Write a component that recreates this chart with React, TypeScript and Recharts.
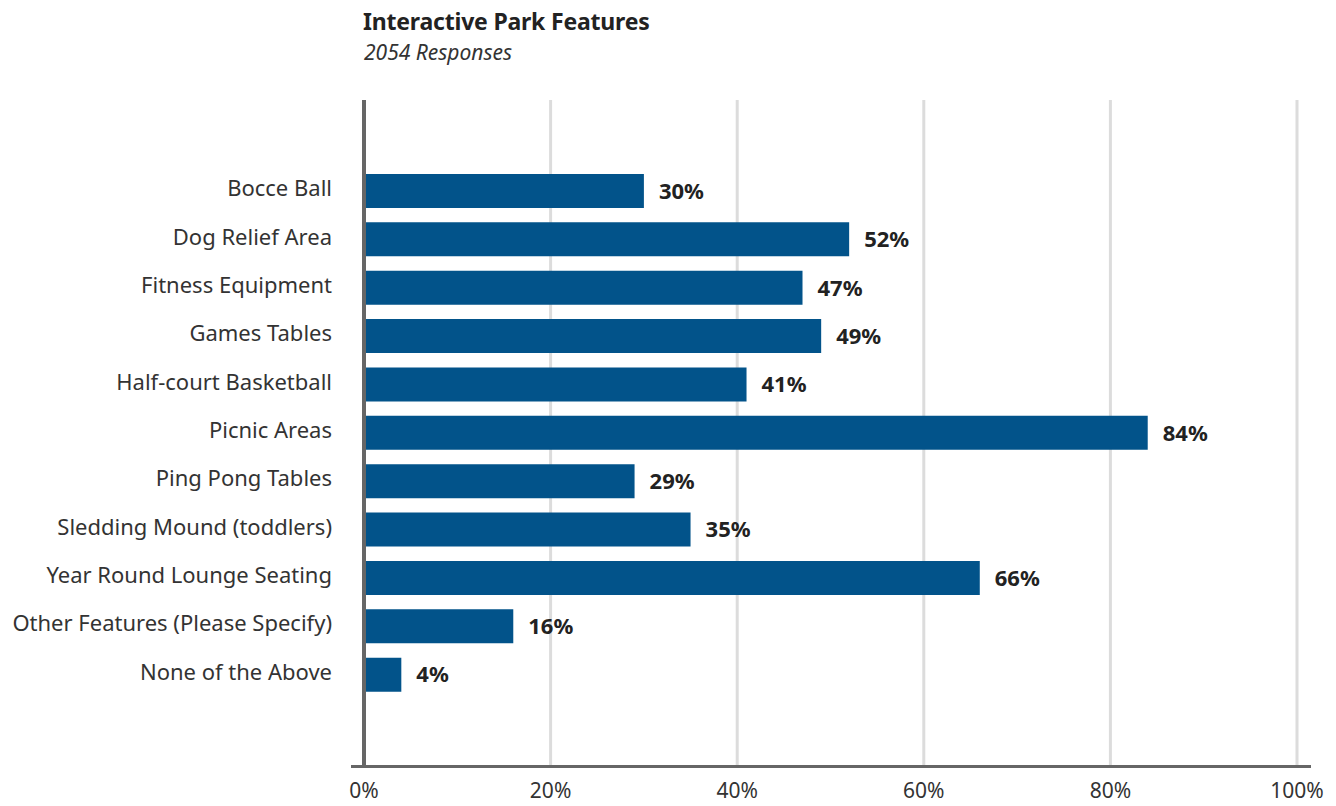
import React from "react";
import {
  BarChart,
  Bar,
  XAxis,
  YAxis,
  CartesianGrid,
  LabelList,
} from "recharts";

const categories = [
  "Bocce Ball",
  "Dog Relief Area",
  "Fitness Equipment",
  "Games Tables",
  "Half-court Basketball",
  "Picnic Areas",
  "Ping Pong Tables",
  "Sledding Mound (toddlers)",
  "Year Round Lounge Seating",
  "Other Features (Please Specify)",
  "None of the Above",
];

const percents = [30, 52, 47, 49, 41, 84, 29, 35, 66, 16, 4];

const xTicks = [0, 20, 40, 60, 80, 100];

const FONT = "'Noto Sans', sans-serif";

const chartData = categories.map((name, i) => ({ name, value: percents[i] }));

function CategoryTick({ x, y, payload }: any) {
  return (
    <text
      x={x - 24}
      y={y}
      dy={5}
      textAnchor="end"
      fontSize={22}
      fill="#333"
      fontFamily={FONT}
    >
      {payload.value}
    </text>
  );
}

function PercentTick({ x, payload }: any) {
  return (
    <text
      x={x}
      y={766}
      dy={32}
      textAnchor="middle"
      fontSize={21}
      fill="#333"
      fontFamily={FONT}
    >
      {payload.value}%
    </text>
  );
}

export default function App() {
  return (
    <div
      style={{
        position: "absolute",
        left: 0,
        top: 0,
        width: 1336,
        height: 806,
        background: "#fff",
        fontFamily: FONT,
      }}
    >
      <div
        style={{
          position: "absolute",
          left: 363,
          top: 5,
          fontSize: 23,
          fontWeight: 700,
          color: "#222",
          letterSpacing: -0.2,
        }}
      >
        Interactive Park Features
      </div>
      <div
        style={{
          position: "absolute",
          left: 364,
          top: 38,
          fontSize: 21,
          fontStyle: "italic",
          color: "#333",
        }}
      >
        2054 Responses
      </div>
      <BarChart
        width={1336}
        height={806}
        layout="vertical"
        data={chartData}
        margin={{ top: 100, right: 39, bottom: 0, left: 14 }}
      >
        <CartesianGrid
          horizontal={false}
          stroke="#dcdcdc"
          strokeWidth={3}
        />
        <XAxis
          type="number"
          domain={[0, 100]}
          ticks={xTicks}
          axisLine={false}
          tickLine={false}
          tick={<PercentTick />}
          height={40}
        />
        <YAxis
          type="category"
          dataKey="name"
          width={350}
          padding={{ top: 67, bottom: 67 }}
          axisLine={{ stroke: "#666", strokeWidth: 4 }}
          tickLine={false}
          tick={<CategoryTick />}
          interval={0}
        />
        <Bar
          dataKey="value"
          fill="#02538a"
          barSize={34}
          isAnimationActive={false}
        >
          <LabelList
            dataKey="value"
            position="right"
            offset={15}
            formatter={(v: any) => `${v}%`}
            style={{
              fontSize: 22,
              fontWeight: 700,
              fill: "#222",
              fontFamily: FONT,
            }}
          />
        </Bar>
      </BarChart>
      <div
        style={{
          position: "absolute",
          left: 351,
          top: 765,
          width: 960,
          height: 3,
          background: "#666",
        }}
      />
    </div>
  );
}
